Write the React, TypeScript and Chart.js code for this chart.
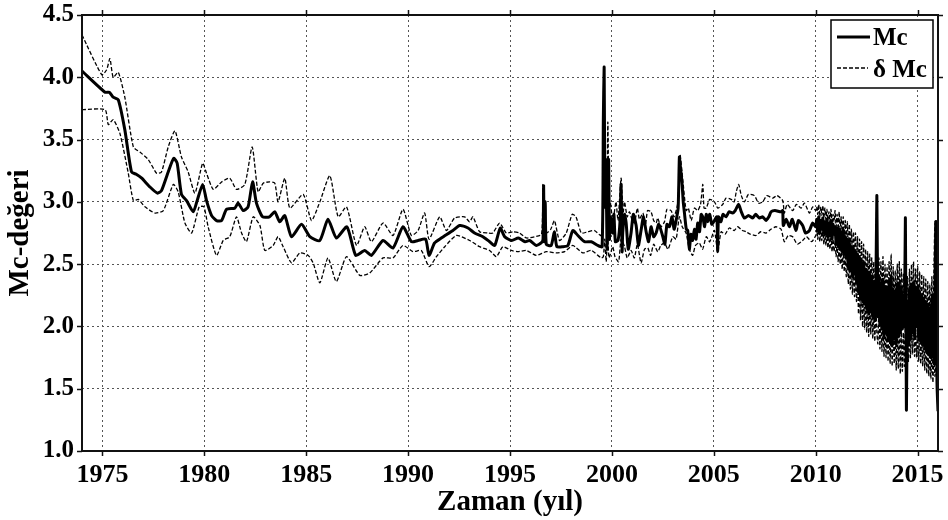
import React, { useEffect, useRef } from 'react';
import { Chart, registerables } from 'chart.js';

Chart.register(...registerables);

// ---- axes / ticks ----
const xTickYears = [1975, 1980, 1985, 1990, 1995, 2000, 2005, 2010, 2015];
const yTickValues = [1.0, 1.5, 2.0, 2.5, 3.0, 3.5, 4.0, 4.5];
const xTitle = 'Zaman (yıl)';
const yTitle = 'Mc-değeri';
const legendLabels = ['Mc', 'δ Mc'];

// ---- Mc (solid) ----
const mcEarlyYears = [1974.0, 1975.13, 1975.34, 1975.53, 1975.78, 1976.1, 1976.43, 1976.68, 1976.93, 1977.33, 1977.7, 1977.9, 1978.23, 1978.5, 1978.67, 1978.88, 1979.13, 1979.46, 1979.65, 1979.92, 1980.11, 1980.36, 1980.6, 1980.85, 1981.09, 1981.5, 1981.66, 1981.91, 1982.15, 1982.37, 1982.56, 1982.86, 1983.2, 1983.46, 1983.7, 1983.95, 1984.28, 1984.77, 1985.18, 1985.67, 1986.07, 1986.48, 1987.0, 1987.43, 1987.87, 1988.2, 1988.77, 1989.26, 1989.75, 1990.16, 1990.49, 1990.86, 1991.03, 1991.3, 1991.63, 1992.2, 1992.53, 1992.94];
const mcEarly = [4.05, 3.88, 3.88, 3.84, 3.82, 3.58, 3.24, 3.22, 3.19, 3.12, 3.07, 3.09, 3.24, 3.35, 3.31, 3.06, 3.01, 2.92, 3.01, 3.14, 3.01, 2.89, 2.85, 2.85, 2.94, 2.95, 2.99, 2.93, 2.96, 3.16, 2.99, 2.88, 2.88, 2.92, 2.84, 2.89, 2.72, 2.82, 2.72, 2.69, 2.86, 2.71, 2.80, 2.57, 2.61, 2.57, 2.69, 2.63, 2.80, 2.68, 2.69, 2.70, 2.57, 2.67, 2.71, 2.77, 2.81, 2.79];

const mcMidYears = [1993.26, 1993.67, 1994.0, 1994.25, 1994.52, 1994.74, 1995.08, 1995.41, 1995.74, 1995.96, 1996.29, 1996.53, 1996.62, 1996.65, 1996.68, 1996.73, 1996.78, 1997.02, 1997.18, 1997.3, 1997.59, 1997.84, 1998.08, 1998.33, 1998.66, 1998.99, 1999.31, 1999.52, 1999.58, 1999.62, 1999.66, 1999.71, 1999.76, 1999.79, 1999.84, 1999.88, 1999.92, 2000.04, 2000.1, 2000.17, 2000.3, 2000.4, 2000.45, 2000.5, 2000.53, 2000.62, 2000.7, 2000.8, 2000.94, 2001.05, 2001.19, 2001.3, 2001.43, 2001.55, 2001.68, 2001.8, 2001.92, 2002.05, 2002.17, 2002.3, 2002.5, 2002.6, 2002.7, 2002.82, 2002.95, 2003.05, 2003.15, 2003.25, 2003.31, 2003.35, 2003.44, 2003.5, 2003.56, 2003.65, 2003.72, 2003.8, 2003.88, 2003.96, 2004.05, 2004.13, 2004.21, 2004.3, 2004.38, 2004.46, 2004.55, 2004.63, 2004.7, 2004.8, 2004.9, 2005.03, 2005.15, 2005.19, 2005.23, 2005.35, 2005.45, 2005.6, 2005.75, 2005.92, 2006.05, 2006.22, 2006.35, 2006.5, 2006.7, 2006.91, 2007.05, 2007.24, 2007.4, 2007.56, 2007.7, 2007.81, 2008.0, 2008.3, 2008.38, 2008.41, 2008.55, 2008.71, 2008.85, 2009.03, 2009.15, 2009.36, 2009.5, 2009.69, 2009.85, 2010.0];
const mcMid = [2.75, 2.72, 2.68, 2.65, 2.79, 2.72, 2.69, 2.71, 2.68, 2.69, 2.65, 2.67, 2.70, 3.13, 2.68, 3.0, 2.66, 2.65, 2.76, 2.64, 2.64, 2.65, 2.77, 2.73, 2.68, 2.68, 2.65, 2.64, 3.67, 4.08, 2.96, 3.34, 2.62, 2.95, 3.34, 2.70, 2.88, 2.75, 2.90, 2.68, 2.69, 2.85, 3.14, 2.60, 2.75, 2.90, 2.83, 2.62, 2.75, 2.90, 2.81, 2.65, 2.77, 2.88, 2.76, 2.68, 2.80, 2.72, 2.75, 2.82, 2.72, 2.66, 2.82, 2.80, 2.88, 2.78, 2.85, 2.95, 3.36, 3.30, 3.15, 3.0, 2.91, 2.78, 2.77, 2.62, 2.74, 2.69, 2.78, 2.70, 2.83, 2.76, 2.90, 2.88, 2.80, 2.90, 2.84, 2.90, 2.82, 2.85, 2.88, 2.60, 2.88, 2.84, 2.90, 2.88, 2.92, 2.91, 2.93, 2.98, 2.92, 2.87, 2.89, 2.87, 2.90, 2.87, 2.88, 2.85, 2.88, 2.92, 2.93, 2.92, 2.93, 2.81, 2.86, 2.80, 2.86, 2.77, 2.85, 2.81, 2.75, 2.77, 2.83, 2.80];

// late period sampled every 0.05 year from 2010.05 to 2016.00
const lateStart = 2010.05;
const lateStep = 0.05;
const mcLate = [
  2.86, 2.77, 2.88, 2.76, 2.85, 2.78, 2.87, 2.75, 2.84, 2.74,
  2.86, 2.72, 2.83, 2.73, 2.85, 2.70, 2.82, 2.74, 2.80, 2.66,
  2.79, 2.64, 2.78, 2.62, 2.76, 2.60, 2.77, 2.58, 2.72, 2.55,
  2.70, 2.48, 2.68, 2.45, 2.64, 2.40, 2.62, 2.42, 2.60, 2.36,
  2.58, 2.28, 2.55, 2.22, 2.52, 2.20, 2.50, 2.18, 2.46, 2.14,
  2.44, 2.10, 2.42, 2.12, 2.40, 2.08, 2.36, 2.05, 2.30, 3.05,
  2.08, 2.40, 2.02, 2.35, 1.98, 2.38, 1.92, 2.32, 1.95, 2.30,
  1.90, 2.36, 1.88, 2.40, 1.85, 2.30, 1.90, 2.28, 1.86, 2.34,
  1.92, 2.35, 1.95, 2.30, 1.98, 2.25, 2.00, 2.87, 1.33, 2.20,
  1.85, 2.30, 1.90, 2.34, 1.95, 2.35, 1.92, 2.30, 2.00, 2.32,
  1.90, 2.28, 1.88, 2.25, 1.85, 2.22, 1.82, 2.20, 1.80, 2.18,
  1.78, 2.15, 1.75, 2.22, 2.25, 1.70, 2.30, 2.84, 1.55, 1.32,
];

// ---- δ Mc upper (dashed) ----
const upEarlyYears = [1974.0, 1974.97, 1975.21, 1975.37, 1975.53, 1975.78, 1976.1, 1976.52, 1976.84, 1977.25, 1977.66, 1977.9, 1978.23, 1978.56, 1978.88, 1979.21, 1979.54, 1979.92, 1980.11, 1980.44, 1980.85, 1981.25, 1981.58, 1981.99, 1982.35, 1982.64, 1982.89, 1983.2, 1983.46, 1983.62, 1983.95, 1984.2, 1984.85, 1985.26, 1985.67, 1986.16, 1986.57, 1986.98, 1987.47, 1987.87, 1988.2, 1988.77, 1989.26, 1989.75, 1990.16, 1990.49, 1990.81, 1991.03, 1991.55, 1991.88, 1992.28, 1992.77, 1993.02];
const upEarly = [4.34, 4.02, 4.06, 4.15, 4.0, 4.04, 3.84, 3.44, 3.40, 3.34, 3.23, 3.24, 3.44, 3.57, 3.36, 3.24, 3.07, 3.31, 3.23, 3.10, 3.16, 3.19, 3.10, 3.14, 3.44, 3.08, 3.15, 3.16, 3.15, 3.0, 3.19, 2.95, 3.06, 2.85, 3.0, 3.21, 2.88, 2.96, 2.65, 2.80, 2.68, 2.83, 2.73, 2.94, 2.73, 2.77, 2.91, 2.70, 2.88, 2.77, 2.87, 2.88, 2.84];

const upMidYears = [1993.18, 1993.51, 1993.92, 1994.16, 1994.49, 1994.82, 1995.15, 1995.47, 1995.8, 1996.2, 1996.55, 1996.61, 1996.66, 1996.72, 1996.78, 1997.0, 1997.18, 1997.43, 1997.76, 1998.05, 1998.24, 1998.5, 1998.82, 1999.15, 1999.47, 1999.58, 1999.62, 1999.67, 1999.75, 1999.8, 1999.86, 1999.92, 2000.0, 2000.08, 2000.2, 2000.3, 2000.45, 2000.55, 2000.62, 2000.75, 2000.86, 2001.0, 2001.11, 2001.25, 2001.35, 2001.52, 2001.65, 2001.75, 2001.92, 2002.05, 2002.17, 2002.25, 2002.4, 2002.58, 2002.7, 2002.9, 2003.05, 2003.23, 2003.34, 2003.47, 2003.64, 2003.75, 2003.89, 2004.05, 2004.21, 2004.35, 2004.46, 2004.52, 2004.63, 2004.8, 2005.03, 2005.2, 2005.44, 2005.6, 2005.85, 2006.0, 2006.1, 2006.22, 2006.35, 2006.5, 2006.7, 2006.99, 2007.2, 2007.4, 2007.6, 2007.89, 2008.1, 2008.38, 2008.46, 2008.6, 2008.87, 2009.05, 2009.28, 2009.45, 2009.69, 2009.85, 2010.0];
const upMid = [2.88, 2.76, 2.75, 2.75, 2.83, 2.75, 2.76, 2.75, 2.71, 2.72, 2.74, 3.14, 2.74, 3.0, 2.75, 2.78, 2.85, 2.69, 2.75, 2.90, 2.88, 2.75, 2.76, 2.77, 2.73, 2.99, 3.67, 3.07, 2.90, 3.64, 3.01, 3.0, 2.90, 2.88, 3.0, 2.85, 3.19, 2.91, 3.0, 2.88, 2.92, 2.85, 2.83, 2.95, 2.86, 2.91, 2.82, 2.93, 2.92, 2.85, 2.83, 2.87, 2.80, 2.84, 2.94, 2.93, 2.88, 2.99, 3.38, 3.19, 2.93, 2.95, 2.85, 2.95, 2.93, 2.98, 3.14, 2.95, 2.95, 3.02, 3.0, 2.95, 2.98, 3.03, 3.02, 3.0, 3.08, 3.14, 3.05, 3.0, 3.06, 3.05, 2.99, 3.0, 3.05, 3.03, 3.05, 3.01, 2.91, 2.98, 2.93, 2.98, 2.95, 2.99, 2.91, 2.96, 2.93];

const upLate = [
  2.96, 2.90, 2.98, 2.88, 2.96, 2.89, 2.97, 2.87, 2.95, 2.86,
  2.94, 2.85, 2.92, 2.84, 2.94, 2.82, 2.90, 2.84, 2.93, 2.80,
  2.90, 2.78, 2.92, 2.76, 2.88, 2.74, 2.88, 2.70, 2.85, 2.68,
  2.84, 2.62, 2.82, 2.60, 2.78, 2.56, 2.76, 2.55, 2.75, 2.50,
  2.72, 2.44, 2.70, 2.40, 2.68, 2.36, 2.66, 2.34, 2.62, 2.30,
  2.60, 2.28, 2.58, 2.30, 2.55, 2.26, 2.52, 2.22, 2.48, 3.05,
  2.25, 2.55, 2.20, 2.52, 2.15, 2.56, 2.12, 2.50, 2.12, 2.48,
  2.08, 2.52, 2.05, 2.58, 2.02, 2.48, 2.06, 2.45, 2.04, 2.50,
  2.10, 2.52, 2.12, 2.46, 2.15, 2.42, 2.18, 2.87, 2.10, 2.40,
  2.02, 2.46, 2.08, 2.50, 2.12, 2.52, 2.10, 2.46, 2.16, 2.48,
  2.06, 2.44, 2.04, 2.42, 2.02, 2.40, 2.00, 2.38, 1.98, 2.36,
  1.96, 2.34, 1.94, 2.40, 1.92, 2.45, 2.84, 2.30, 2.55, 2.60,
];

// ---- δ Mc lower (dashed) ----
const lowEarlyYears = [1974.0, 1975.13, 1975.29, 1975.53, 1975.86, 1976.27, 1976.52, 1976.76, 1977.09, 1977.58, 1977.99, 1978.48, 1978.72, 1979.05, 1979.38, 1979.75, 1979.98, 1980.19, 1980.6, 1980.93, 1981.25, 1981.58, 1981.83, 1982.07, 1982.4, 1982.73, 1982.97, 1983.38, 1983.62, 1983.87, 1984.28, 1984.69, 1985.1, 1985.34, 1985.67, 1986.07, 1986.48, 1986.98, 1987.63, 1988.12, 1988.77, 1989.26, 1989.75, 1990.24, 1990.65, 1991.03, 1991.39, 1991.8, 1992.37, 1993.02];
const lowEarly = [3.74, 3.74, 3.62, 3.66, 3.55, 3.23, 3.01, 3.02, 2.96, 2.91, 2.93, 3.14, 3.08, 2.83, 2.75, 2.96, 2.96, 2.80, 2.57, 2.69, 2.72, 2.88, 2.75, 2.68, 2.88, 2.81, 2.61, 2.65, 2.72, 2.64, 2.51, 2.59, 2.57, 2.51, 2.35, 2.55, 2.36, 2.56, 2.41, 2.43, 2.55, 2.55, 2.65, 2.60, 2.61, 2.48, 2.56, 2.64, 2.73, 2.69];

const lowMidYears = [1993.51, 1994.0, 1994.33, 1994.65, 1995.06, 1995.39, 1995.8, 1996.29, 1996.78, 1997.27, 1997.68, 1998.08, 1998.57, 1998.99, 1999.47, 1999.58, 1999.65, 1999.72, 1999.79, 1999.86, 2000.04, 2000.15, 2000.33, 2000.45, 2000.62, 2000.75, 2000.94, 2001.1, 2001.25, 2001.43, 2001.6, 2001.76, 2001.9, 2002.05, 2002.25, 2002.4, 2002.58, 2002.75, 2002.99, 2003.15, 2003.31, 2003.45, 2003.64, 2003.8, 2003.96, 2004.1, 2004.29, 2004.45, 2004.63, 2004.8, 2005.03, 2005.19, 2005.36, 2005.55, 2005.76, 2006.0, 2006.17, 2006.4, 2006.58, 2006.8, 2007.07, 2007.3, 2007.56, 2007.8, 2008.05, 2008.3, 2008.46, 2008.65, 2008.87, 2009.1, 2009.36, 2009.55, 2009.8, 2010.0];
const lowMid = [2.64, 2.61, 2.56, 2.64, 2.61, 2.60, 2.61, 2.57, 2.60, 2.59, 2.60, 2.65, 2.59, 2.61, 2.55, 2.56, 2.70, 2.52, 2.75, 2.55, 2.64, 2.56, 2.52, 2.70, 2.64, 2.55, 2.61, 2.55, 2.66, 2.51, 2.62, 2.63, 2.57, 2.66, 2.60, 2.65, 2.67, 2.62, 2.72, 2.70, 2.88, 2.80, 2.75, 2.62, 2.57, 2.65, 2.67, 2.62, 2.72, 2.68, 2.77, 2.60, 2.76, 2.74, 2.79, 2.77, 2.80, 2.77, 2.76, 2.74, 2.73, 2.76, 2.75, 2.78, 2.80, 2.78, 2.68, 2.73, 2.72, 2.66, 2.69, 2.72, 2.68, 2.73];

const lowLate = [
  2.78, 2.70, 2.80, 2.68, 2.77, 2.69, 2.78, 2.66, 2.75, 2.65,
  2.74, 2.63, 2.72, 2.62, 2.73, 2.60, 2.70, 2.60, 2.68, 2.56,
  2.66, 2.52, 2.65, 2.50, 2.62, 2.46, 2.62, 2.44, 2.58, 2.40,
  2.55, 2.34, 2.52, 2.30, 2.48, 2.26, 2.46, 2.24, 2.44, 2.20,
  2.40, 2.10, 2.36, 2.05, 2.34, 2.00, 2.30, 1.98, 2.28, 1.95,
  2.26, 1.92, 2.24, 1.94, 2.20, 1.90, 2.18, 1.88, 2.15, 1.95,
  1.86, 2.15, 1.82, 2.12, 1.80, 2.14, 1.76, 2.10, 1.75, 2.08,
  1.72, 2.10, 1.70, 2.12, 1.68, 2.05, 1.70, 2.02, 1.65, 2.06,
  1.66, 2.02, 1.62, 1.98, 1.64, 1.95, 1.68, 2.00, 1.33, 1.90,
  1.72, 2.00, 1.75, 2.02, 1.78, 2.04, 1.76, 1.98, 1.75, 2.00,
  1.72, 1.98, 1.70, 1.95, 1.68, 1.94, 1.65, 1.92, 1.62, 1.90,
  1.60, 1.88, 1.58, 1.85, 1.55, 1.80, 1.60, 1.75, 1.50, 1.32,
];

const toPoints = (xs: number[], ys: number[]) => xs.map((x, i) => ({ x, y: ys[i] }));
const toLatePoints = (ys: number[]) => ys.map((y, i) => ({ x: lateStart + i * lateStep, y }));

const FONT = '"Liberation Serif", "Times New Roman", serif';

export default function App() {
  const ref = useRef<HTMLCanvasElement | null>(null);

  useEffect(() => {
    if (!ref.current) return;

    const framePlugin = {
      id: 'frame',
      afterDatasetsDraw(chart: any) {
        const { ctx, chartArea } = chart;
        const { left, right, top, bottom } = chartArea;
        const xs = chart.scales.x;
        const ys = chart.scales.y;
        const seg = (x1: number, y1: number, x2: number, y2: number) => {
          ctx.beginPath();
          ctx.moveTo(x1, y1);
          ctx.lineTo(x2, y2);
          ctx.stroke();
        };
        ctx.save();
        ctx.strokeStyle = '#111';
        ctx.lineWidth = 2;
        ctx.strokeRect(left, top, right - left, bottom - top);
        ctx.lineWidth = 1.5;
        xTickYears.forEach((v) => {
          const px = Math.round(xs.getPixelForValue(v)) + 0.5;
          seg(px, top, px, top - 5);
          seg(px, bottom, px, bottom + 5);
        });
        yTickValues.forEach((v) => {
          const py = Math.round(ys.getPixelForValue(v)) + 0.5;
          seg(left, py, left - 5, py);
          seg(right, py, right + 5, py);
        });
        // legend box
        const bx = right - 107;
        const by = top + 5;
        const bw = 102;
        const bh = 68;
        ctx.fillStyle = '#fff';
        ctx.fillRect(bx, by, bw, bh);
        ctx.strokeStyle = '#000';
        ctx.lineWidth = 1.5;
        ctx.strokeRect(bx, by, bw, bh);
        ctx.lineWidth = 3;
        seg(bx + 6, by + 17, bx + 39, by + 17);
        ctx.lineWidth = 1.3;
        ctx.setLineDash([4, 2]);
        seg(bx + 6, by + 48, bx + 37, by + 48);
        ctx.setLineDash([]);
        ctx.fillStyle = '#000';
        ctx.font = `bold 25px ${FONT}`;
        ctx.textBaseline = 'middle';
        ctx.textAlign = 'left';
        ctx.fillText(legendLabels[0], bx + 42, by + 19);
        ctx.fillText(legendLabels[1], bx + 42, by + 51);
        ctx.restore();
      },
    };

    const zeroPad = (s: any) => {
      s.paddingTop = 0;
      s.paddingBottom = 0;
      s.paddingLeft = 0;
      s.paddingRight = 0;
    };

    const chart = new Chart(ref.current, {
      type: 'line',
      data: {
        datasets: [
          {
            label: legendLabels[0],
            data: [...toPoints(mcEarlyYears, mcEarly), ...toPoints(mcMidYears, mcMid), ...toLatePoints(mcLate)],
            borderColor: '#000',
            borderWidth: 3,
            pointRadius: 0,
            tension: 0.2,
            fill: false,
          },
          {
            label: legendLabels[1],
            data: [...toPoints(upEarlyYears, upEarly), ...toPoints(upMidYears, upMid), ...toLatePoints(upLate)],
            borderColor: '#000',
            borderWidth: 1.3,
            borderDash: [4, 2],
            pointRadius: 0,
            tension: 0.2,
            fill: false,
          },
          {
            label: legendLabels[1] + ' alt',
            data: [...toPoints(lowEarlyYears, lowEarly), ...toPoints(lowMidYears, lowMid), ...toLatePoints(lowLate)],
            borderColor: '#000',
            borderWidth: 1.3,
            borderDash: [4, 2],
            pointRadius: 0,
            tension: 0.2,
            fill: false,
          },
        ],
      },
      options: {
        responsive: false,
        animation: false,
        devicePixelRatio: 1,
        layout: { padding: { top: 15, right: 10, left: 0, bottom: 0 } },
        plugins: { legend: { display: false }, tooltip: { enabled: false } },
        scales: {
          x: {
            type: 'linear',
            min: 1974,
            max: 2016,
            afterBuildTicks: (s: any) => {
              s.ticks = xTickYears.map((v) => ({ value: v }));
            },
            afterFit: (s: any) => {
              s.height = 69;
              zeroPad(s);
            },
            ticks: {
              color: '#000',
              font: { family: FONT, size: 26, weight: 'bold' },
              padding: 9,
              maxRotation: 0,
              autoSkip: false,
              callback: (v: any) => String(v),
            },
            grid: {
              color: '#555',
              lineWidth: 1,
              drawTicks: false,
            },
            border: { display: false, dash: [2, 3] },
            title: {
              display: true,
              text: xTitle,
              color: '#000',
              font: { family: FONT, size: 29, weight: 'bold' },
              padding: 0,
            },
          },
          y: {
            type: 'linear',
            min: 1,
            max: 4.5,
            afterBuildTicks: (s: any) => {
              s.ticks = yTickValues.map((v) => ({ value: v }));
            },
            afterFit: (s: any) => {
              s.width = 82;
              zeroPad(s);
            },
            ticks: {
              color: '#000',
              font: { family: FONT, size: 25, weight: 'bold' },
              padding: 8,
              callback: (v: any) => Number(v).toFixed(1),
            },
            grid: {
              color: '#555',
              lineWidth: 1,
              drawTicks: false,
            },
            border: { display: false, dash: [2, 3] },
            title: {
              display: true,
              text: yTitle,
              color: '#000',
              font: { family: FONT, size: 29, weight: 'bold' },
              padding: { top: 3, bottom: 0 },
            },
          },
        },
      },
      plugins: [framePlugin],
    });

    return () => chart.destroy();
  }, []);

  return (
    <div style={{ position: 'absolute', left: 0, top: 0, width: 948, height: 520, background: '#fff' }}>
      <canvas ref={ref} width={948} height={520} />
    </div>
  );
}
